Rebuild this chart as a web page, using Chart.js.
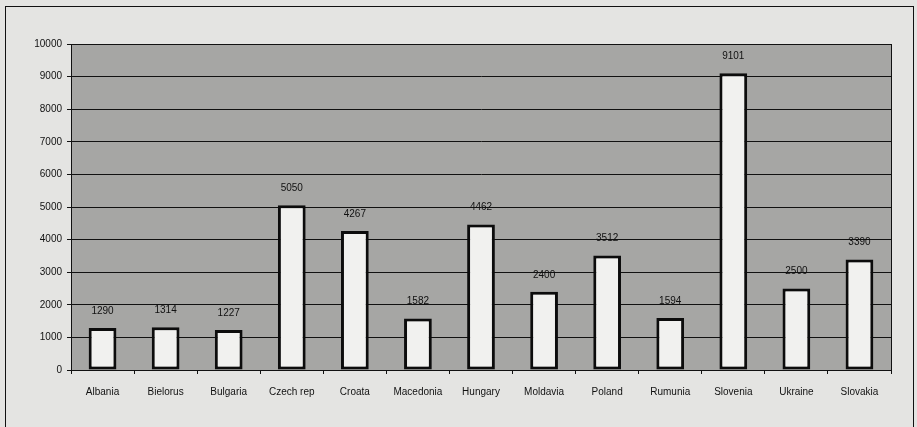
<!DOCTYPE html>
<html>
<head>
<meta charset="utf-8">
<script src="https://cdn.jsdelivr.net/npm/chart.js@4"></script>
<style>
  html, body { margin: 0; padding: 0; background: #e4e4e2; }
  #wrap { width: 917px; height: 427px; position: relative; }
</style>
</head>
<body>
<div id="wrap"><canvas id="fdiChart" width="917" height="427"></canvas></div>
<script>
// countries and values
var countries = ['Albania', 'Bielorus', 'Bulgaria', 'Czech rep', 'Croata', 'Macedonia', 'Hungary',
                 'Moldavia', 'Poland', 'Rumunia', 'Slovenia', 'Ukraine', 'Slovakia'];
var values = [1290, 1314, 1227, 5050, 4267, 1582, 4462, 2400, 3512, 1594, 9101, 2500, 3390];
var yTicks = [0, 1000, 2000, 3000, 4000, 5000, 6000, 7000, 8000, 9000, 10000];

// grey plot background, plot border and outer frame
var backdrop = {
    id: 'backdrop',
    beforeDraw: function (chart) {
        var c = chart.ctx, a = chart.chartArea;
        c.save();
        c.fillStyle = '#e4e4e2';
        c.fillRect(0, 0, chart.width, chart.height);
        c.fillStyle = '#a6a6a4';
        c.fillRect(a.left, a.top, a.right - a.left, a.bottom - a.top);
        c.restore();
    },
    afterDraw: function (chart) {
        var c = chart.ctx, a = chart.chartArea;
        c.save();
        c.strokeStyle = '#111';
        c.lineWidth = 1;
        c.strokeRect(Math.round(a.left) + 0.5, Math.round(a.top) + 0.5, a.right - a.left, a.bottom - a.top);
        c.strokeRect(5.5, 6.5, 908, 440);
        c.restore();
    }
};

// value labels above each bar
var barLabels = {
    id: 'barLabels',
    afterDatasetsDraw: function (chart) {
        var c = chart.ctx;
        var meta = chart.getDatasetMeta(0);
        c.save();
        c.fillStyle = '#111';
        c.font = '10px "Liberation Sans", Arial, sans-serif';
        c.textAlign = 'center';
        c.textBaseline = 'middle';
        meta.data.forEach(function (bar, i) {
            c.fillText(String(values[i]), bar.x, bar.y - 17);
        });
        c.restore();
    }
};

var ctx = document.getElementById('fdiChart').getContext('2d');
var fdiChart = new Chart(ctx, {
    type: 'bar',
    data: {
        labels: countries,
        datasets: [{
            data: values,
            backgroundColor: '#f1f1ef',
            borderColor: '#0c0c0c',
            borderWidth: 3,
            borderSkipped: false,
            categoryPercentage: 1,
            barPercentage: 0.44
        }]
    },
    options: {
        responsive: false,
        animation: false,
        layout: { padding: { left: 0, top: 44, right: 26, bottom: 0 } },
        plugins: { legend: { display: false }, tooltip: { enabled: false } },
        scales: {
            x: {
                grid: { drawOnChartArea: false, drawTicks: true, tickLength: 4, color: '#111', offset: true },
                border: { display: true, color: '#111', width: 1 },
                ticks: {
                    color: '#111',
                    padding: 12,
                    maxRotation: 0,
                    autoSkip: false,
                    font: { family: '"Liberation Sans", Arial, sans-serif', size: 10 }
                },
                afterFit: function (scale) { scale.height = 57; }
            },
            y: {
                min: 0,
                max: 10000,
                afterBuildTicks: function (scale) {
                    scale.ticks = yTicks.map(function (v) { return { value: v }; });
                },
                grid: { color: '#111', lineWidth: 1, tickLength: 4 },
                border: { display: true, color: '#111', width: 1 },
                ticks: {
                    color: '#111',
                    padding: 5,
                    callback: function (v) { return String(v); },
                    font: { family: '"Liberation Sans", Arial, sans-serif', size: 10 }
                },
                afterFit: function (scale) { scale.width = 71; }
            }
        }
    },
    plugins: [backdrop, barLabels]
});
</script>
</body>
</html>
